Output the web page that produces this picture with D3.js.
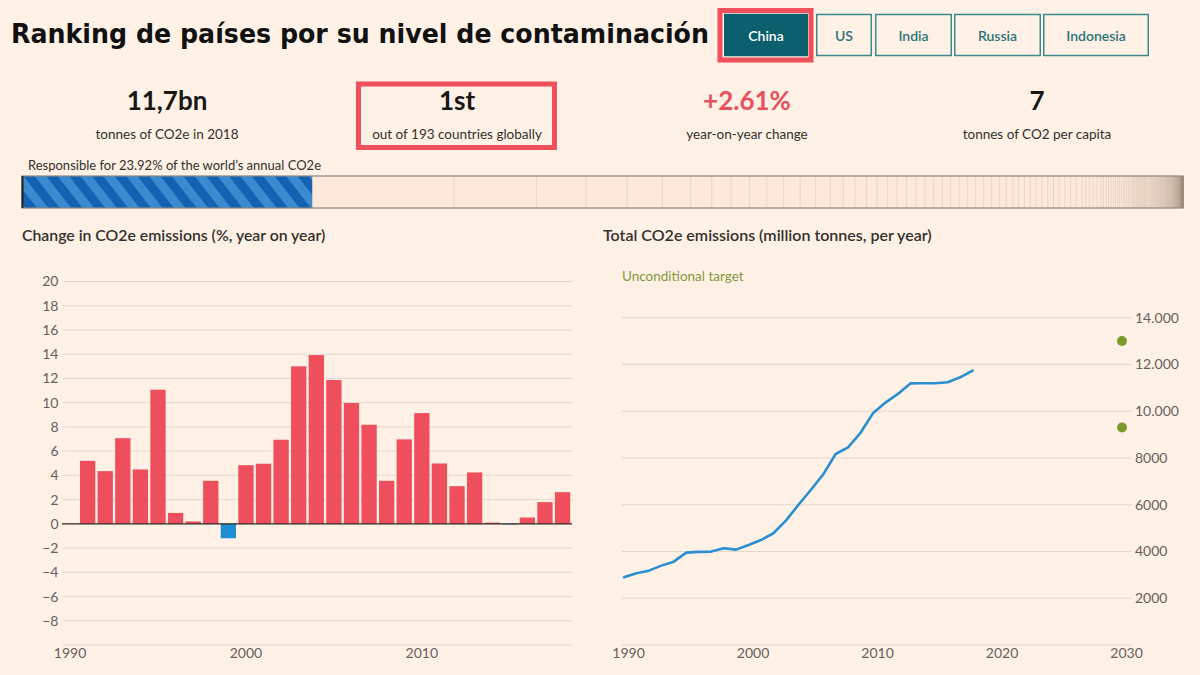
<!DOCTYPE html>
<html><head><meta charset="utf-8">
<script src="https://cdn.jsdelivr.net/npm/d3@7"></script>
<style>
html,body{margin:0;padding:0;background:#fff1e5;}
svg{display:block;font-family:Lato,'Open Sans',sans-serif;}
</style></head><body>
<svg id="chart" width="1200" height="675"></svg>
<script>
// ---------------- DATA ----------------
const pageTitle = "Ranking de países por su nivel de contaminación";
const countries = ["China", "US", "India", "Russia", "Indonesia"];
const selectedCountry = "China";
const statValues = ["11,7bn", "1st", "+2.61%", "7"];
const statLabels = ["tonnes of CO2e in 2018", "out of 193 countries globally", "year-on-year change", "tonnes of CO2 per capita"];
const shareLabel = "Responsible for 23.92% of the world’s annual CO2e";
// share (%) of world annual CO2e for each of the 193 countries, ranked
const worldShares = [
  23.92, 11.68, 6.80, 4.08, 3.41, 2.89, 2.34, 1.74, 1.59, 1.51, 1.43, 1.39, 1.36, 1.27, 1.22, 1.07,
  0.96, 0.94, 0.89, 0.84, 0.80, 0.79, 0.78, 0.73, 0.72, 0.71, 0.69,
  0.69, 0.68, 0.68, 0.67, 0.66, 0.63, 0.57, 0.54, 0.48, 0.48, 0.48, 0.48, 0.48, 0.48,
  0.47, 0.47, 0.47, 0.47, 0.47, 0.47, 0.31, 0.31, 0.31, 0.31, 0.31,
  0.232, 0.215, 0.207, 0.198, 0.190, 0.182, 0.174, 0.165, 0.157, 0.149,
  0.141, 0.132, 0.124, 0.116, 0.116, 0.107, 0.099, 0.099, 0.091, 0.083,
  0.082, 0.081, 0.080, 0.079, 0.078, 0.077, 0.076, 0.076, 0.075, 0.075,
  0.074, 0.074, 0.073, 0.072, 0.072, 0.071, 0.070, 0.070, 0.069, 0.068,
  0.062, 0.060, 0.058, 0.057, 0.055, 0.054, 0.053, 0.052, 0.051, 0.050,
  0.049, 0.048, 0.047, 0.046, 0.045, 0.044, 0.043, 0.042, 0.041, 0.040,
  0.039, 0.038, 0.037, 0.036, 0.035, 0.034, 0.034, 0.033, 0.033, 0.032,
  0.031, 0.031, 0.030, 0.030, 0.029, 0.028, 0.028, 0.027, 0.026, 0.025,
  0.024, 0.024, 0.023, 0.023, 0.022, 0.022, 0.021, 0.021, 0.020, 0.020,
  0.020, 0.019, 0.019, 0.018, 0.018, 0.017, 0.017, 0.016, 0.016, 0.015,
  0.015, 0.014, 0.014, 0.013, 0.013, 0.012, 0.012, 0.012, 0.011, 0.011,
  0.011, 0.010, 0.010, 0.010, 0.009, 0.009, 0.008, 0.008, 0.007, 0.007,
  0.006, 0.006, 0.005, 0.005, 0.005, 0.004, 0.004, 0.004, 0.004, 0.003,
  0.003, 0.003, 0.003, 0.002, 0.002, 0.002, 0.002, 0.001, 0.001, 0.001, 0.001
];

const changeTitle = "Change in CO2e emissions (%, year on year)";
const changeAxisYears = [1990, 1991, 1992, 1993, 1994, 1995, 1996, 1997, 1998, 1999, 2000, 2001, 2002, 2003, 2004,
  2005, 2006, 2007, 2008, 2009, 2010, 2011, 2012, 2013, 2014, 2015, 2016, 2017, 2018];
const changeYears = [1991, 1992, 1993, 1994, 1995, 1996, 1997, 1998, 1999, 2000, 2001, 2002, 2003, 2004,
  2005, 2006, 2007, 2008, 2009, 2010, 2011, 2012, 2013, 2014, 2015, 2016, 2017, 2018];
const changeValues = [5.2, 4.35, 7.07, 4.49, 11.07, 0.9, 0.2, 3.55, -1.19, 4.84, 4.96, 6.94, 13.0, 13.93,
  11.87, 9.97, 8.18, 3.55, 6.97, 9.14, 4.98, 3.11, 4.24, 0.1, -0.05, 0.52, 1.79, 2.61];
const changeTicks = [-8, -6, -4, -2, 0, 2, 4, 6, 8, 10, 12, 14, 16, 18, 20];
const changeGrid = [-10, -8, -6, -4, -2, 2, 4, 6, 8, 10, 12, 14, 16, 18, 20];
const changeYearTicks = [1990, 2000, 2010];

const totalTitle = "Total CO2e emissions (million tonnes, per year)";
const targetLabel = "Unconditional target";
const totalYears = [1990, 1991, 1992, 1993, 1994, 1995, 1996, 1997, 1998, 1999, 2000, 2001, 2002, 2003, 2004,
  2005, 2006, 2007, 2008, 2009, 2010, 2011, 2012, 2013, 2014, 2015, 2016, 2017, 2018];
const totalValues = [2900, 3070, 3180, 3395, 3565, 3950, 3985, 3995, 4135, 4080, 4280, 4490, 4780, 5320, 5990,
  6630, 7300, 8170, 8450, 9080, 9910, 10370, 10740, 11190, 11195, 11195, 11240, 11450, 11735];
const targetYears = [2030, 2030];
const targetValues = [13000, 9300];
const totalTicks = [0, 2000, 4000, 6000, 8000, 10000, 12000, 14000];
const totalTickLabels = ["", "2000", "4000", "6000", "8000", "10.000", "12.000", "14.000"];
const totalYearTicks = [1990, 2000, 2010, 2020, 2030];

// ---------------- LAYOUT / STYLE ----------------
const C = {
  bg: "#fff1e5", text: "#33302e", axis: "#66605c", grid: "#e4d8cd",
  red: "#ef4f5c", blue: "#1f8fd5", line: "#2a8fd0", green: "#7a9a2a",
  teal: "#0c5f6c", tealText: "#2a737b", tealStroke: "#3a8a90", highlight: "#f04f5c"
};
const BTN_X = [724, 816, 875, 954, 1043];
const BTN_W = [84, 56, 77, 87, 106];
const STAT_X = [167, 457, 747, 1037];

const svg = d3.select("#chart");
svg.append("rect").attr("width", 1200).attr("height", 675).attr("fill", C.bg);

// Title
svg.append("text").attr("x", 11).attr("y", 43)
  .attr("font-family", "'DejaVu Sans Condensed', 'DejaVu Sans', sans-serif").attr("font-weight", 700)
  .attr("font-stretch", "condensed")
  .attr("font-size", 26).attr("fill", "#111")
  .attr("textLength", 698).attr("lengthAdjust", "spacingAndGlyphs")
  .text(pageTitle);

// Buttons
const btn = svg.append("g").selectAll("g").data(countries).join("g");
btn.append("rect")
  .attr("x", (d, i) => BTN_X[i] + 0.75).attr("y", 14.5)
  .attr("width", (d, i) => BTN_W[i] - 1.5).attr("height", 41)
  .attr("fill", d => d === selectedCountry ? C.teal : "none")
  .attr("stroke", d => d === selectedCountry ? C.teal : C.tealStroke).attr("stroke-width", 1.5);
btn.append("text")
  .attr("x", (d, i) => BTN_X[i] + BTN_W[i] / 2).attr("y", 40.5)
  .attr("text-anchor", "middle").attr("font-size", 14).attr("font-weight", 600)
  .attr("fill", d => d === selectedCountry ? "#fff" : C.tealText)
  .text(d => d);
const selIdx = countries.indexOf(selectedCountry);
svg.append("rect").attr("x", BTN_X[selIdx] - 4).attr("y", 10.5)
  .attr("width", BTN_W[selIdx] + 7).attr("height", 49.5)
  .attr("fill", "none").attr("stroke", C.highlight).attr("stroke-width", 5);

// Stats
const stat = svg.append("g").selectAll("g").data(statValues).join("g");
stat.append("text").attr("x", (d, i) => STAT_X[i]).attr("y", 110)
  .attr("text-anchor", "middle").attr("font-size", 26).attr("font-weight", 700)
  .attr("fill", (d, i) => i === 2 ? "#e8505b" : "#1a1817").text(d => d);
stat.append("text").attr("x", (d, i) => STAT_X[i]).attr("y", 139)
  .attr("text-anchor", "middle").attr("font-size", 13.5)
  .attr("fill", C.text).text((d, i) => statLabels[i]);
svg.append("rect").attr("x", 358.5).attr("y", 84).attr("width", 196).attr("height", 63.5)
  .attr("fill", "none").attr("stroke", C.highlight).attr("stroke-width", 5);

// Share strip
svg.append("text").attr("x", 28).attr("y", 170).attr("font-size", 13).attr("fill", C.text).text(shareLabel);
const defs = svg.append("defs");
const pat = defs.append("pattern").attr("id", "hatch").attr("patternUnits", "userSpaceOnUse")
  .attr("width", 18).attr("height", 18).attr("patternTransform", "rotate(-38)");
pat.append("rect").attr("width", 18).attr("height", 18).attr("fill", "#3a8ad0");
pat.append("rect").attr("width", 9).attr("height", 18).attr("fill", "#1462b2");

const stripX0 = 22, stripX1 = 1183, stripY = 176, stripH = 32;
const total = d3.sum(worldShares);
const cum = [];
let acc = 0;
worldShares.forEach(v => { cum.push(acc); acc += v; });
const sx = d3.scaleLinear().domain([0, total]).range([stripX0, stripX1]);
svg.append("rect").attr("x", stripX0).attr("y", stripY).attr("width", stripX1 - stripX0).attr("height", stripH)
  .attr("fill", "#fde9dc");
const strip = svg.append("g");
strip.selectAll("line").data(worldShares.slice(1)).join("line")
  .attr("x1", (d, i) => sx(cum[i + 1])).attr("x2", (d, i) => sx(cum[i + 1]))
  .attr("y1", stripY).attr("y2", stripY + stripH)
  .attr("stroke", "#9c8672").attr("stroke-opacity", 0.2).attr("stroke-width", 1);
strip.append("rect").attr("x", sx(0)).attr("y", stripY)
  .attr("width", sx(worldShares[0]) - sx(0)).attr("height", stripH).attr("fill", "url(#hatch)");
svg.append("rect").attr("x", stripX0).attr("y", stripY).attr("width", stripX1 - stripX0).attr("height", stripH)
  .attr("fill", "none").attr("stroke", "#8a8580").attr("stroke-width", 1.2);
svg.append("line").attr("x1", stripX0 + 0.5).attr("x2", stripX0 + 0.5).attr("y1", stripY).attr("y2", stripY + stripH)
  .attr("stroke", "#222").attr("stroke-width", 2);

// ---------------- Left chart: change bars ----------------
svg.append("text").attr("x", 22).attr("y", 241).attr("font-size", 15.8).attr("font-weight", 600)
  .attr("fill", C.text).text(changeTitle);
const xb = d3.scaleBand().domain(changeAxisYears).range([62.4, 570.2]).paddingInner(0.13).paddingOuter(0);
const yb = d3.scaleLinear().domain([-10, 20]).range([645, 281.5]);
const gl = svg.append("g");
gl.selectAll("line.grid").data(changeGrid).join("line").attr("class", "grid")
  .attr("x1", 62.5).attr("x2", 573).attr("y1", d => yb(d)).attr("y2", d => yb(d))
  .attr("stroke", C.grid).attr("stroke-width", 1);
const yAxisL = d3.axisLeft(yb).tickValues(changeTicks).tickSize(0).tickPadding(0).tickFormat(d3.format("d"));
gl.append("g").attr("transform", "translate(58.5,0)").call(yAxisL)
  .call(g => g.select(".domain").remove())
  .call(g => g.selectAll("text").attr("font-size", 14).attr("fill", C.axis).attr("font-family", "Lato,sans-serif"));
gl.selectAll("rect.bar").data(changeValues).join("rect").attr("class", "bar")
  .attr("x", (d, i) => xb(changeYears[i])).attr("width", xb.bandwidth())
  .attr("y", d => yb(Math.max(0, d))).attr("height", d => Math.abs(yb(d) - yb(0)))
  .attr("fill", d => d < 0 ? C.blue : C.red);
gl.append("line").attr("x1", 62).attr("x2", 572).attr("y1", yb(0)).attr("y2", yb(0))
  .attr("stroke", "#2b2622").attr("stroke-width", 1.2);
const xAxisL = d3.axisBottom(xb).tickValues(changeYearTicks).tickSize(0).tickPadding(0);
gl.append("g").attr("transform", "translate(0,648)").call(xAxisL)
  .call(g => g.select(".domain").remove())
  .call(g => g.selectAll("text").attr("font-size", 14).attr("fill", C.axis).attr("font-family", "Lato,sans-serif").attr("dy", "0.71em"));

// ---------------- Right chart: totals line ----------------
svg.append("text").attr("x", 603).attr("y", 241).attr("font-size", 16).attr("font-weight", 600)
  .attr("fill", C.text).text(totalTitle);
svg.append("text").attr("x", 622).attr("y", 281).attr("font-size", 13.5).attr("fill", "#7f9a3c").text(targetLabel);
const xl = d3.scaleLinear().domain([1990, 2030]).range([624, 1122]);
const yl = d3.scaleLinear().domain([0, 14000]).range([645, 317.7]);
const gr = svg.append("g");
gr.selectAll("line.grid").data(totalTicks).join("line").attr("class", "grid")
  .attr("x1", 622).attr("x2", 1132).attr("y1", d => yl(d)).attr("y2", d => yl(d))
  .attr("stroke", C.grid).attr("stroke-width", 1);
const yAxisR = d3.axisRight(yl).tickValues(totalTicks).tickSize(0).tickPadding(0)
  .tickFormat((d, i) => totalTickLabels[i]);
gr.append("g").attr("transform", "translate(1135,0)").call(yAxisR)
  .call(g => g.select(".domain").remove())
  .call(g => g.selectAll("text").attr("font-size", 14).attr("fill", C.axis).attr("font-family", "Lato,sans-serif"));
const xAxisR = d3.axisBottom(xl).tickValues(totalYearTicks).tickSize(0).tickPadding(0).tickFormat(d3.format("d"));
gr.append("g").attr("transform", "translate(4,648)").call(xAxisR)
  .call(g => g.select(".domain").remove())
  .call(g => g.selectAll("text").attr("font-size", 14).attr("fill", C.axis).attr("font-family", "Lato,sans-serif").attr("dy", "0.71em"));
const lineGen = d3.line().x((d, i) => xl(totalYears[i])).y(d => yl(d));
gr.append("path").datum(totalValues).attr("d", lineGen)
  .attr("fill", "none").attr("stroke", C.line).attr("stroke-width", 2.6)
  .attr("stroke-linejoin", "round").attr("stroke-linecap", "round");
gr.selectAll("circle").data(targetValues).join("circle")
  .attr("cx", (d, i) => xl(targetYears[i])).attr("cy", d => yl(d)).attr("r", 5)
  .attr("fill", C.green);
</script>
</body></html>
